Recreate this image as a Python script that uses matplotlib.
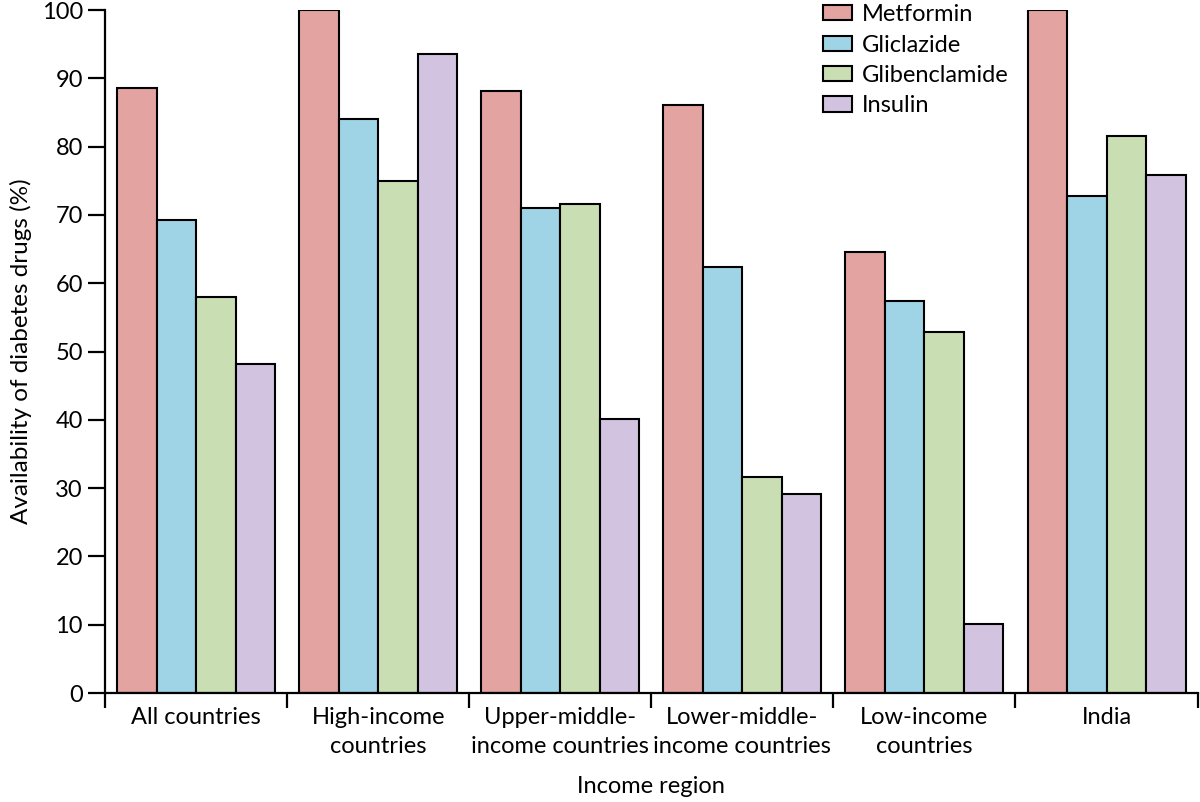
import numpy as np
import matplotlib
matplotlib.use('Agg')
import matplotlib.pyplot as plt
from matplotlib.patches import Patch

plt.rcParams['font.family'] = ['Lato', 'DejaVu Sans']

# Datos
regiones = ['All countries', 'High-income\ncountries', 'Upper-middle-\nincome countries',
            'Lower-middle-\nincome countries', 'Low-income\ncountries', 'India']
farmacos = ['Metformin', 'Gliclazide', 'Glibenclamide', 'Insulin']
metformin = [88.6, 100.0, 88.1, 86.1, 64.6, 100.0]
gliclazide = [69.3, 84.0, 71.0, 62.4, 57.4, 72.7]
glibenclamide = [58.0, 75.0, 71.6, 31.6, 52.8, 81.6]
insulin = [48.2, 93.6, 40.1, 29.2, 10.1, 75.9]
colores = ['#e2a3a1', '#9ed4e6', '#c9dfb3', '#d2c3e1']

series = [metformin, gliclazide, glibenclamide, insulin]

fig = plt.figure(figsize=(12, 8.02), dpi=100)
ax = fig.add_axes([0.0875, 0.1359, 0.9105, 0.8516])

x = np.arange(len(regiones))
w = 0.217
for k, (vals, col) in enumerate(zip(series, colores)):
    ax.bar(x + (k - 1.5) * w, vals, width=w, color=col, edgecolor='black',
           linewidth=1.5, label=farmacos[k])

ax.set_xlim(-0.5, len(regiones) - 0.5)
ax.set_ylim(0, 100)
ax.set_yticks(np.arange(0, 101, 10))

# Marcas en los límites de grupo, etiquetas en el centro
ax.set_xticks(np.arange(len(regiones) + 1) - 0.5)
ax.set_xticklabels([])
ax.set_xticks(x, minor=True)
ax.set_xticklabels(regiones, minor=True, fontsize=17, linespacing=1.45)
ax.tick_params(axis='x', which='major', direction='out', length=11, width=1.6)
ax.tick_params(axis='x', which='minor', length=0, pad=10)
ax.tick_params(axis='y', direction='out', length=12, width=1.6, labelsize=17, pad=4)

for s in ['top', 'right']:
    ax.spines[s].set_visible(False)
for s in ['left', 'bottom']:
    ax.spines[s].set_linewidth(1.6)

ax.set_ylabel('Availability of diabetes drugs (%)', fontsize=17.5, labelpad=7)
ax.set_xlabel('Income region', fontsize=17, labelpad=14)

handles = [Patch(facecolor=c, edgecolor='black', linewidth=1.5) for c in colores]
ax.legend(handles, farmacos, loc='upper left', bbox_to_anchor=(0.6485, 1.0225),
          frameon=False, fontsize=17, handlelength=1.23, handleheight=0.62,
          handletextpad=0.42, labelspacing=0.4, borderaxespad=0)

plt.savefig('out.png', dpi=100)
